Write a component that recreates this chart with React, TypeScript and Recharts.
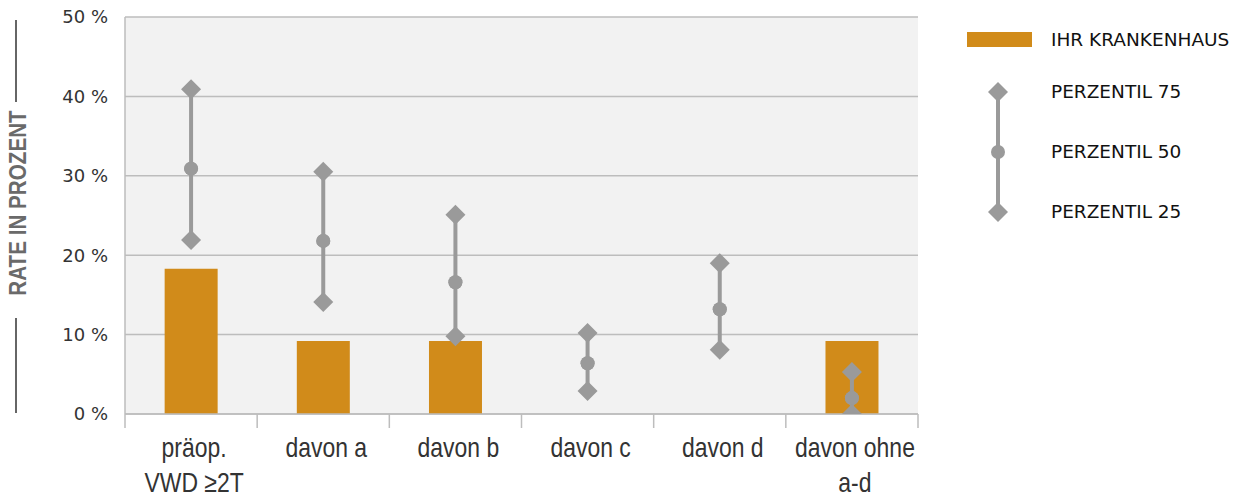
import React from "react";
import {
  Bar,
  CartesianGrid,
  ComposedChart,
  ErrorBar,
  Scatter,
  XAxis,
  YAxis,
} from "recharts";

const categories = ["präop.\nVWD ≥2T", "davon a", "davon b", "davon c", "davon d", "davon ohne\na-d"];
const hausRate = [18.3, 9.2, 9.2, null, null, 9.2];
const perzentil75 = [40.9, 30.5, 25.1, 10.2, 19.0, 5.3];
const perzentil50 = [30.9, 21.8, 16.6, 6.4, 13.2, 2.0];
const perzentil25 = [21.9, 14.1, 9.8, 2.9, 8.1, 0.0];
const yTicks = [0, 10, 20, 30, 40, 50];
const legendLabels = ["IHR KRANKENHAUS", "PERZENTIL 75", "PERZENTIL 50", "PERZENTIL 25"];

const ORANGE = "#d18b1a";
const GREY = "#9a9a9a";
const GRID = "#bdbdbd";

const W = 1238;
const H = 499;
const PLOT_LEFT = 125;
const PLOT_RIGHT = 918;
const PLOT_TOP = 17;
const PLOT_BOTTOM = 414;
const BAND = (PLOT_RIGHT - PLOT_LEFT) / categories.length;

const chartData = categories.map((name, i) => ({
  name,
  haus: hausRate[i],
  p75: perzentil75[i],
  p50: perzentil50[i],
  p25: perzentil25[i],
  spread: [perzentil50[i] - perzentil25[i], perzentil75[i] - perzentil50[i]],
}));

const Diamond = ({ cx, cy }: any) => (
  <polygon
    points={`${cx},${cy - 10} ${cx + 10},${cy} ${cx},${cy + 10} ${cx - 10},${cy}`}
    fill={GREY}
  />
);

const Dot = ({ cx, cy }: any) => <circle cx={cx} cy={cy} r={7} fill={GREY} />;

// condensed look: Liberation Sans squeezed horizontally
const XTick = ({ x, y, payload, index }: any) => {
  const lines = String(payload.value).split("\n");
  return (
    <g>
      <line x1={x - BAND / 2} x2={x - BAND / 2} y1={y} y2={y + 14} stroke={GRID} strokeWidth={1.5} />
      {index === categories.length - 1 && (
        <line x1={x + BAND / 2} x2={x + BAND / 2} y1={y} y2={y + 14} stroke={GRID} strokeWidth={1.5} />
      )}
      {lines.map((l, i) => (
        <text
          key={i}
          transform={`translate(${x + 3},${y + 43 + i * 35}) scale(0.82,1)`}
          textAnchor="middle"
          fontFamily="'Liberation Sans', sans-serif"
          fontSize={28}
          fill="#333"
        >
          {l}
        </text>
      ))}
    </g>
  );
};

const LegendBox = () => (
  <svg width={278} height={220} style={{ position: "absolute", left: 960, top: 20 }}>
    <rect x={7} y={12} width={65} height={15} fill={ORANGE} />
    <line x1={38} x2={38} y1={72} y2={192} stroke={GREY} strokeWidth={4} />
    <Diamond cx={38} cy={72} />
    <Dot cx={38} cy={132} />
    <Diamond cx={38} cy={192} />
    {legendLabels.map((t, i) => (
      <text
        key={t}
        x={91}
        y={(i === 0 ? 20 : 12 + i * 60) + 6}
        fontFamily="'DejaVu Sans', sans-serif"
        fontSize={18.5}
        fill="#111"
      >
        {t}
      </text>
    ))}
  </svg>
);

export default function App() {
  return (
    <div style={{ position: "absolute", left: 0, top: 0, width: W, height: H, background: "#fff" }}>
      <ComposedChart
        width={W}
        height={H}
        data={chartData}
        margin={{ top: PLOT_TOP, right: W - PLOT_RIGHT, bottom: 0, left: 0 }}
        barCategoryGap="30%"
      >
        <CartesianGrid vertical={false} fill="#f2f2f2" stroke={GRID} strokeWidth={1.5} />
        <XAxis
          dataKey="name"
          interval={0}
          tickLine={false}
          tickSize={0}
          tickMargin={0}
          axisLine={{ stroke: GRID, strokeWidth: 1.5 }}
          tick={<XTick />}
          height={H - PLOT_BOTTOM}
        />
        <YAxis
          domain={[0, 50]}
          ticks={yTicks}
          allowDataOverflow
          width={PLOT_LEFT}
          tickLine={false}
          tickMargin={11}
          axisLine={{ stroke: GRID, strokeWidth: 1.5 }}
          tickFormatter={(v) => `${v} %`}
          tick={{ fontFamily: "'DejaVu Sans', sans-serif", fontSize: 18, fill: "#333" }}
        />
        <YAxis
          yAxisId="right"
          orientation="right"
          width={0}
          tick={false}
          tickLine={false}
          domain={[0, 50]}
          axisLine={{ stroke: GRID, strokeWidth: 1.5 }}
        />
        <Bar dataKey="haus" fill={ORANGE} isAnimationActive={false} />
        <Scatter dataKey="p50" shape={<Dot />} isAnimationActive={false}>
          <ErrorBar dataKey="spread" direction="y" width={0} stroke={GREY} strokeWidth={4} isAnimationActive={false} />
        </Scatter>
        <Scatter dataKey="p75" shape={<Diamond />} isAnimationActive={false} />
        <Scatter dataKey="p25" shape={<Diamond />} isAnimationActive={false} />
        <Scatter dataKey="p50" shape={<Dot />} isAnimationActive={false} />
      </ComposedChart>
      <svg width={40} height={H} style={{ position: "absolute", left: 0, top: 0 }}>
        <line x1={16} x2={16} y1={20} y2={102} stroke="#666" strokeWidth={2} />
        <line x1={16} x2={16} y1={318} y2={413} stroke="#666" strokeWidth={2} />
        <text
          transform="translate(26,203) rotate(-90) scale(0.86,1)"
          textAnchor="middle"
          fontFamily="'Liberation Sans', sans-serif"
          fontWeight="bold"
          fontSize={24}
          fill="#6a6a6a"
        >
          RATE IN PROZENT
        </text>
      </svg>
      <LegendBox />
    </div>
  );
}
